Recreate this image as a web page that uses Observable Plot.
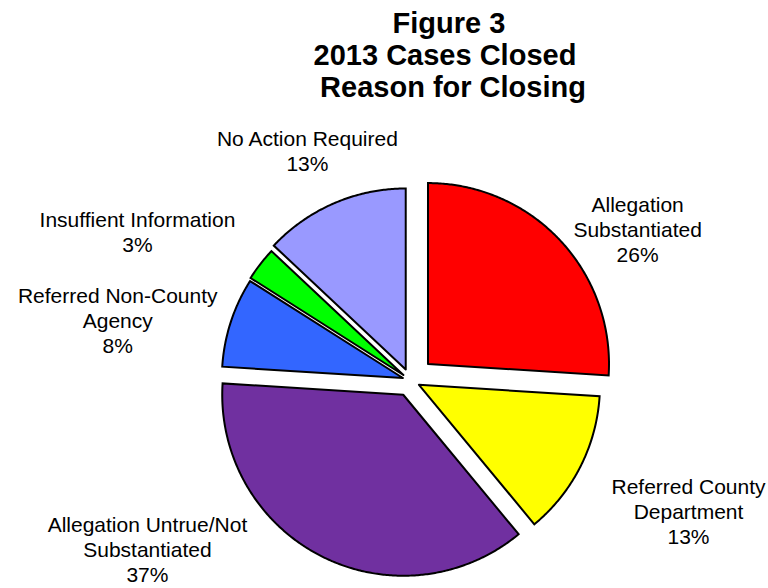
<!DOCTYPE html>
<html>
<head>
<meta charset="utf-8">
<script src="https://cdn.jsdelivr.net/npm/d3@7"></script>
<script src="https://cdn.jsdelivr.net/npm/@observablehq/plot@0.6"></script>
<style>
  html, body { margin: 0; padding: 0; background: #fff; }
  #wrap { width: 768px; height: 588px; overflow: hidden; font-family: "Liberation Sans", Arial, sans-serif; }
  #title { box-sizing: border-box; width: 768px; padding-left: 130px; padding-top: 7px;
           text-align: center; font-weight: bold; font-size: 29px; line-height: 32px; color: #000; }
  #title div { white-space: pre; }
  svg { display: block; }
  svg text { font-family: "Liberation Sans", Arial, sans-serif; }
</style>
</head>
<body>
<div id="wrap">
  <div id="title">
    <div>Figure 3</div>
    <div>2013 Cases Closed </div>
    <div> Reason for Closing</div>
  </div>
  <div id="chart"></div>
</div>
<script>
// ---- data ----
const categories = ["Allegation Substantiated", "Referred County Department", "Allegation Untrue/Not Substantiated",
                    "Referred Non-County Agency", "Insuffient Information", "No Action Required"];
const percents = [26, 13, 37, 8, 3, 13];
const labelLines = ["Allegation\nSubstantiated", "Referred County\nDepartment", "Allegation Untrue/Not\nSubstantiated",
                    "Referred Non-County\nAgency", "Insuffient Information", "No Action Required"];
const colors = ["#FF0000", "#FFFF00", "#7030A0", "#3366FF", "#00FF00", "#9999FF"];

// ---- layout ----
const titleH = 103, svgH = 588 - titleH;
const CX = 410, CY = 380, R = 181;              // pie centre / radius (page px)
const explode = [24, 9.5, 16, 8, 9, 12];         // slice explosion (px)
const labelPolar = [[56.3, 273], [115.1, 307], [237.3, 312.6], [281.7, 299], [298.6, 311], [335.9, 252.5]]; // [deg, dist]

// ---- build slice outlines from the values ----
const rows = [];
let cum = 0;
const total = d3.sum(percents);
categories.forEach((name, i) => {
  const a0 = cum / total * 2 * Math.PI;
  cum += percents[i];
  const a1 = cum / total * 2 * Math.PI;
  const m = (a0 + a1) / 2;
  const ax = CX + explode[i] * Math.sin(m), ay = CY - explode[i] * Math.cos(m);
  rows.push({name, x: ax, y: ay});
  const n = Math.max(2, Math.ceil((a1 - a0) / (Math.PI / 360)));
  for (let k = 0; k <= n; k++) {
    const a = a0 + (a1 - a0) * k / n;
    rows.push({name, x: ax + R * Math.sin(a), y: ay - R * Math.cos(a)});
  }
  rows.push({name, x: ax, y: ay});
});

const labels = categories.map((name, i) => {
  const [deg, dist] = labelPolar[i];
  const a = deg * Math.PI / 180;
  return {name, text: `${labelLines[i]}\n${percents[i]}%`, x: CX + dist * Math.sin(a), y: CY - dist * Math.cos(a)};
});

const chart = Plot.plot({
  width: 768,
  height: svgH,
  margin: 0,
  style: {background: "#fff", color: "#000"},
  x: {type: "linear", domain: [0, 768], range: [0, 768], axis: null},
  y: {type: "linear", domain: [titleH, 588], range: [0, svgH], axis: null},
  color: {domain: categories, range: colors},
  marks: [
    Plot.line(rows, {x: "x", y: "y", z: "name", fill: "name", stroke: "black", strokeWidth: 2,
                     strokeLinejoin: "miter", strokeMiterlimit: 4, curve: "linear"}),
    Plot.text(labels, {x: "x", y: "y", text: "text", fontSize: 21, lineHeight: 25 / 21,
                       fontFamily: "Liberation Sans, Arial, sans-serif",
                       textAnchor: "middle", lineAnchor: "middle", fill: "black"})
  ]
});
document.getElementById("chart").appendChild(chart);
</script>
</body>
</html>
